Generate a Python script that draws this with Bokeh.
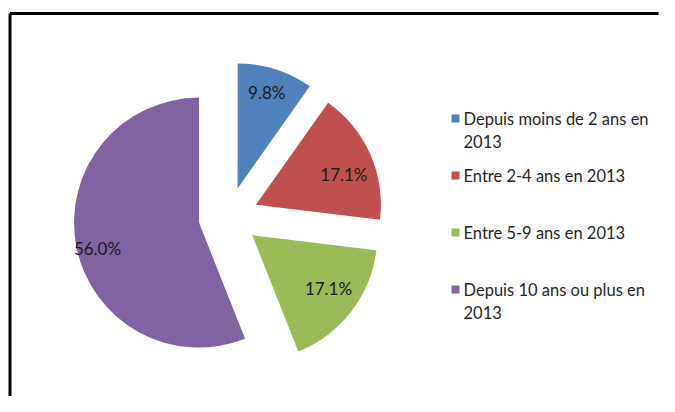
import math
from bokeh.plotting import figure
from bokeh.models import Range1d, ColumnDataSource
from bokeh.core.properties import value
from bokeh.embed import file_html
from bokeh.resources import INLINE

# ---- data ----
categories = ["Depuis moins de 2 ans en\n2013", "Entre 2-4 ans en 2013",
              "Entre 5-9 ans en 2013", "Depuis 10 ans ou plus en\n2013"]
shares = [9.8, 17.1, 17.1, 56.0]
share_labels = ["9.8%", "17.1%", "17.1%", "56.0%"]
colors = ["#4F81BD", "#C0504D", "#9BBB59", "#8064A2"]

# ---- layout (pixels of the picture) ----
W, H = 659, 396
def dx(px):
    return px
def dy(py):
    return H - py

CX, CY = dx(228), dy(216.5)
R = 125
EXPLODE = 30
LABEL_R = 0.77 * R
# small per-slice label nudges (picture pixels, x right / y down)
label_nudge_x = [0, 0, 0, -7]
label_nudge_y = [-4, 9, -6, 8]
FONT = "Lato"

p = figure(width=W, height=H, output_backend="svg", toolbar_location=None,
           x_range=Range1d(0, W), y_range=Range1d(0, H),
           min_border=0, min_border_left=0, min_border_right=0,
           min_border_top=0, min_border_bottom=0)
p.axis.visible = False
p.grid.visible = False
p.outline_line_color = None
p.background_fill_color = "white"
p.border_fill_color = "white"

total = sum(shares)
xs, ys, st, en, lx, ly = [], [], [], [], [], []
cum = 0.0
for i, s in enumerate(shares):
    a0 = math.pi / 2 - 2 * math.pi * cum / total
    a1 = math.pi / 2 - 2 * math.pi * (cum + s) / total
    mid = (a0 + a1) / 2
    x = CX + EXPLODE * math.cos(mid)
    y = CY + EXPLODE * math.sin(mid)
    xs.append(x); ys.append(y); st.append(a0); en.append(a1)
    lx.append(x + LABEL_R * math.cos(mid) + label_nudge_x[i])
    ly.append(y + LABEL_R * math.sin(mid) - label_nudge_y[i])
    cum += s

src = ColumnDataSource(dict(x=xs, y=ys, start=st, end=en, color=colors,
                            lx=lx, ly=ly, label=share_labels))
p.wedge(x="x", y="y", radius=R, start_angle="start", end_angle="end",
        direction="clock", fill_color="color", line_color=None, source=src)
p.text(x="lx", y="ly", text="label", source=src, text_align="center",
       text_baseline="middle", text_font=value(FONT), text_font_size="17px",
       text_color="#1a1a1a")

# legend drawn manually
LEG_SQ_X = dx(455)
LEG_TX = dx(463)
LEG_Y0 = 118
LEG_STEP = 57
LINE_H = 22.5
sq_x, sq_y, t_x, t_y, t_txt = [], [], [], [], []
for i, cat in enumerate(categories):
    y0 = LEG_Y0 + i * LEG_STEP
    sq_x.append(LEG_SQ_X); sq_y.append(dy(y0))
    for j, line in enumerate(cat.split("\n")):
        t_x.append(LEG_TX); t_y.append(dy(y0 + j * LINE_H)); t_txt.append(line)
p.scatter(x=sq_x, y=sq_y, marker="square", size=8, fill_color=colors, line_color=None)
p.text(x=t_x, y=t_y, text=t_txt, text_align="left", text_baseline="middle",
       text_font=value(FONT), text_font_size="16.5px", text_color="#262626")

# chart border (left and top visible)
p.line(x=[dx(9.5), dx(9.5)], y=[0, dy(13)], line_width=3, line_color="black")
p.line(x=[dx(9.5), W - 1], y=[dy(13), dy(13)], line_width=3, line_color="black")

open("out.html", "w").write(file_html(p, INLINE))
